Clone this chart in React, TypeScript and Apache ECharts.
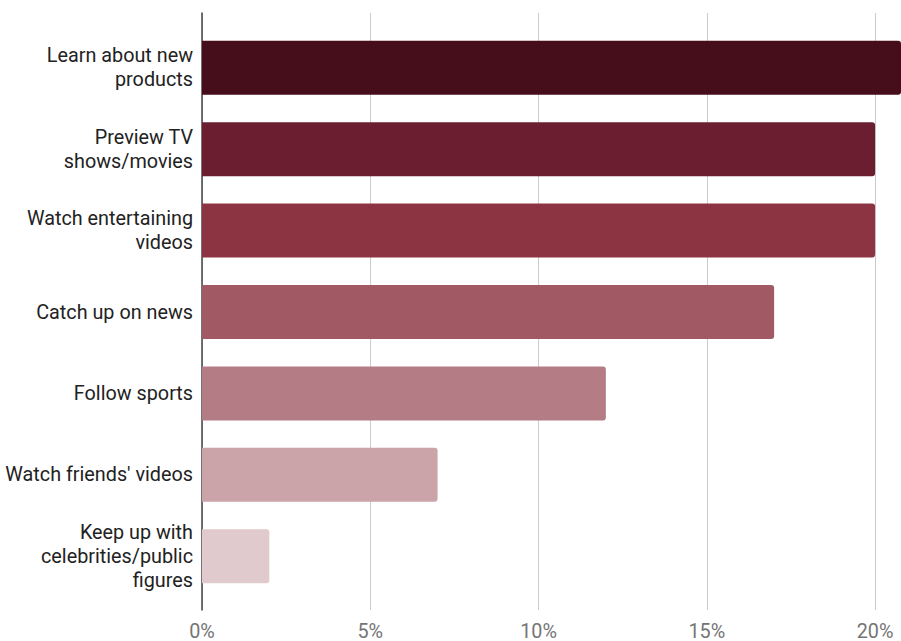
import React, { useEffect, useRef } from "react";
import * as echarts from "echarts";

const categories = [
  "Learn about new products",
  "Preview TV shows/movies",
  "Watch entertaining videos",
  "Catch up on news",
  "Follow sports",
  "Watch friends' videos",
  "Keep up with celebrities/public figures",
];
const values = [21, 20, 20, 17, 12, 7, 2];
const barColors = ["#460d1b", "#6a1e30", "#8c3442", "#a15a64", "#b47c85", "#caa4a9", "#e0cacd"];
const tickStep = 5;
const axisMax = 20.77;

const FONT_SIZE = 19.8;
const FONT = "Roboto, 'Noto Sans', sans-serif";

function wrapWords(text: string, maxWidth: number): string {
  const canvas = document.createElement("canvas");
  const ctx = canvas.getContext("2d");
  if (!ctx) return text;
  ctx.font = `${FONT_SIZE}px Roboto`;
  const words = text.split(" ");
  const lines: string[] = [];
  let cur = "";
  for (const w of words) {
    const test = cur ? cur + " " + w : w;
    if (cur && ctx.measureText(test).width > maxWidth) {
      lines.push(cur);
      cur = w;
    } else {
      cur = test;
    }
  }
  if (cur) lines.push(cur);
  return lines.join("\n");
}

export default function App() {
  const ref = useRef<HTMLDivElement>(null);
  useEffect(() => {
    if (!ref.current) return;
    const chart = echarts.init(ref.current, null, { renderer: "svg" });
    chart.setOption({
      animation: false,
      textStyle: { fontFamily: FONT },
      grid: [
        { left: 202, right: 0, top: 27, bottom: 44 },
        { left: 202, right: 0, top: 13, bottom: 31 },
      ],
      xAxis: [
        {
          gridIndex: 0,
          type: "value",
          min: 0,
          max: axisMax,
          interval: tickStep,
          show: false,
        },
        {
          gridIndex: 1,
          type: "value",
          min: 0,
          max: axisMax,
          interval: tickStep,
          axisLine: { show: false },
          axisTick: { show: false },
          splitLine: { show: true, lineStyle: { color: "#cccccc", width: 1 } },
          axisLabel: {
            formatter: "{value}%",
            color: "#757575",
            fontSize: FONT_SIZE,
            fontFamily: FONT,
            margin: 11,
            showMaxLabel: false,
          },
        },
      ],
      yAxis: [
        {
          gridIndex: 0,
          type: "category",
          inverse: true,
          data: categories,
          axisLine: { show: false },
          axisTick: { show: false },
          splitLine: { show: false },
          axisLabel: {
            color: "#222222",
            fontSize: FONT_SIZE,
            fontFamily: FONT,
            margin: 9,
            lineHeight: 24,
            align: "right",
            formatter: (v: string) => wrapWords(v, 192),
          },
        },
        {
          gridIndex: 1,
          type: "value",
          min: 0,
          max: 1,
          axisLine: { show: true, lineStyle: { color: "#444444", width: 1.5 } },
          axisTick: { show: false },
          axisLabel: { show: false },
          splitLine: { show: false },
        },
      ],
      series: [
        {
          type: "bar",
          xAxisIndex: 0,
          yAxisIndex: 0,
          barWidth: 54,
          clip: true,
          z: 5,
          data: values.map((v, i) => ({
            value: v,
            itemStyle: { color: barColors[i], borderRadius: [0, 3, 3, 0] },
          })),
        },
      ],
    });
    return () => chart.dispose();
  }, []);
  return <div ref={ref} style={{ width: 901, height: 641, position: "absolute", left: 0, top: 0 }} />;
}
